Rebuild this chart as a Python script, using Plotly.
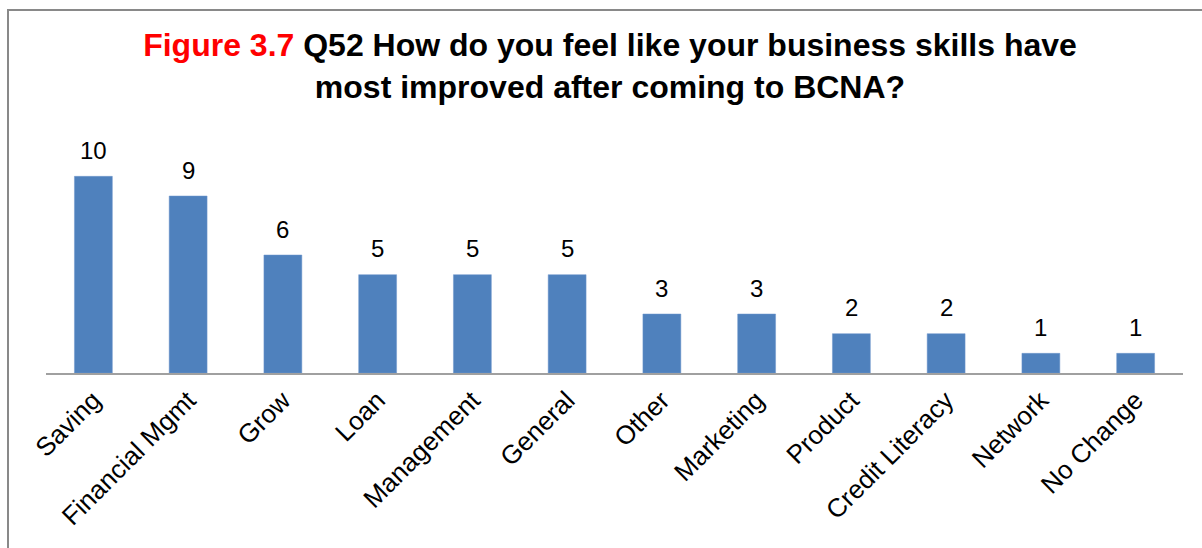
import plotly.graph_objects as go

categories = ["Saving", "Financial Mgmt", "Grow", "Loan", "Management", "General",
              "Other", "Marketing", "Product", "Credit Literacy", "Network", "No Change"]
counts = [10, 9, 6, 5, 5, 5, 3, 3, 2, 2, 1, 1]

title_prefix = "Figure 3.7"
title_main = "Q52 How do you feel like your business skills have<br>most improved after coming to BCNA?"

FONT = "Liberation Sans, Arial, sans-serif"
BAR_COLOR = "#4F81BD"

fig = go.Figure()
fig.add_trace(go.Bar(
    x=categories,
    y=counts,
    marker=dict(color=BAR_COLOR, line=dict(color="#6E97CC", width=0.5)),
    hoverinfo="x+y",
))

# value labels above each bar
for cat, val in zip(categories, counts):
    fig.add_annotation(
        x=cat, y=val, xref="x", yref="y",
        text=str(val), showarrow=False,
        yanchor="middle", yshift=26,
        font=dict(family=FONT, size=24, color="#000000"),
    )

W, H = 1202, 548
ML, MR, MT, MB = 46, 19, 137, 175
pw, ph = W - ML - MR, H - MT - MB

# chart frame (gray border)
fig.add_shape(
    type="rect", xref="paper", yref="paper",
    x0=(8 - ML) / pw, x1=(1230 - ML) / pw,
    y0=-(600 - (H - MB)) / ph, y1=((H - MB) - 10) / ph,
    line=dict(color="#898989", width=2), fillcolor="rgba(0,0,0,0)",
    layer="above",
)

fig.update_layout(
    width=W, height=H,
    margin=dict(l=ML, r=MR, t=MT, b=MB),
    paper_bgcolor="white", plot_bgcolor="white",
    showlegend=False,
    bargap=0.6,
    title=dict(
        text=f"<b><span style='color:#FF0000'>{title_prefix}</span> {title_main}</b>",
        font=dict(family=FONT, size=32, color="#000000"),
        x=610 / W, xanchor="center", xref="container",
        y=1 - 56 / H, yanchor="top", yref="container",
    ),
    xaxis=dict(
        tickangle=-45,
        tickfont=dict(family=FONT, size=26, color="#000000"),
        showline=True, linecolor="#A0A0A0", linewidth=1.5,
        ticks="", showgrid=False,
    ),
    yaxis=dict(
        range=[0, 12], visible=False, showgrid=False, zeroline=False,
    ),
)

fig.write_html("out.html")
